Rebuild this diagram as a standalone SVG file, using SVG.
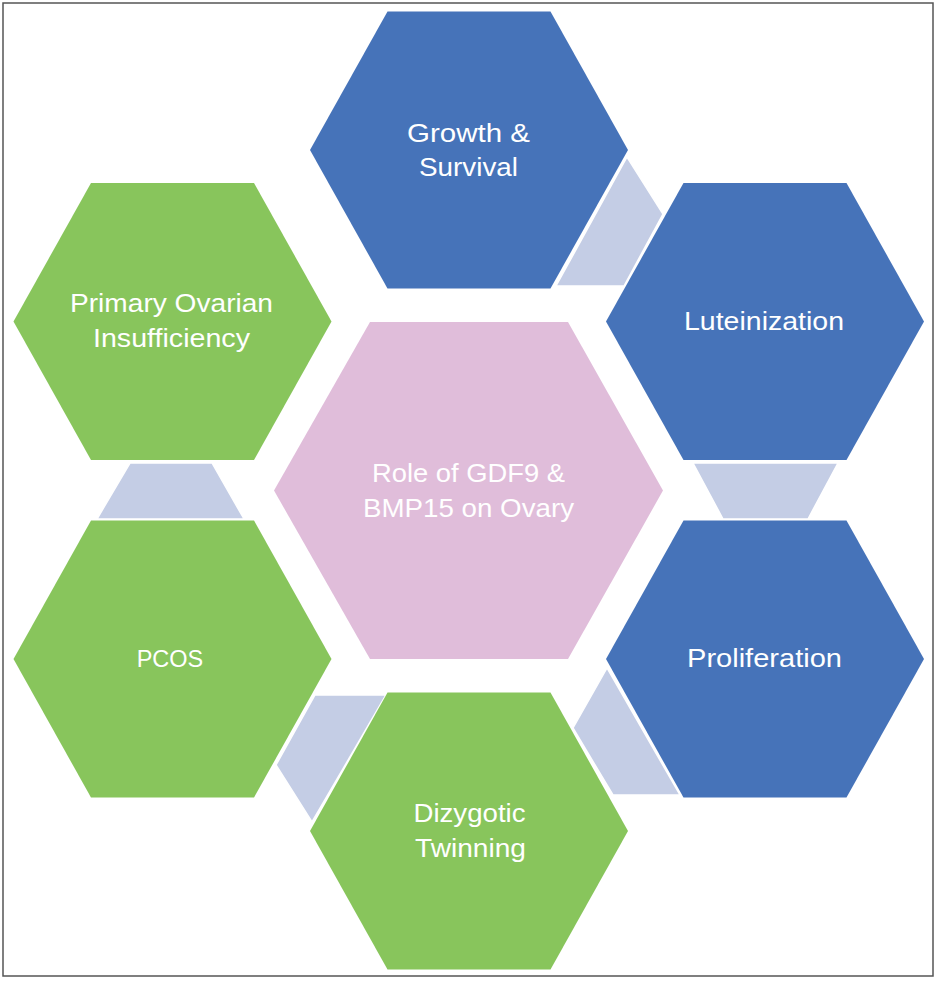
<svg xmlns="http://www.w3.org/2000/svg" width="939" height="984" viewBox="0 0 939 984">
<style>
.blue{fill:#4673B9}
.green{fill:#88C55C}
.pink{fill:#E0BDDA}
.conn{fill:#C4CDE5;stroke:#FFFFFF;stroke-width:1.5;stroke-linejoin:round}
.lbl{font-family:"Liberation Sans",Arial,sans-serif;font-size:26px;fill:#FFFFFF;text-anchor:middle}
</style>
<rect x="0" y="0" width="939" height="984" fill="#FFFFFF"/>
<rect x="3" y="3" width="930" height="973" fill="none" stroke="#555555" stroke-width="1.5"/>
<g id="connectors">
<polygon class="conn" points="627,157 663,214 624,286 556,286"/>
<polygon class="conn" points="693,463 838,463 808,519 723,519"/>
<polygon class="conn" points="130,463 212,463 244,519 97,519"/>
<polygon class="conn" points="315,695 386,695 312,822 276,765"/>
<polygon class="conn" points="607,668 680,795 613,795 573,728"/>
</g>
<g id="center">
<polygon class="pink" points="370,322 568,322 663,490.5 568,659 370,659 274,490.5"/>
<text class="lbl"><tspan x="468.5" y="482" textLength="193" lengthAdjust="spacingAndGlyphs">Role of GDF9 &amp;</tspan><tspan x="468.5" y="517" textLength="211" lengthAdjust="spacingAndGlyphs">BMP15 on Ovary</tspan></text>
</g>
<g id="growth">
<polygon class="blue" points="387.5,11.5 550.5,11.5 628,150 550.5,288.5 387.5,288.5 310,150"/>
<text class="lbl"><tspan x="468.5" y="142" textLength="123" lengthAdjust="spacingAndGlyphs">Growth &amp;</tspan><tspan x="468.5" y="176" textLength="99" lengthAdjust="spacingAndGlyphs">Survival</tspan></text>
</g>
<g id="luteinization">
<polygon class="blue" points="683.5,183 846.5,183 924,321.5 846.5,460 683.5,460 606,321.5"/>
<text class="lbl" x="764" y="330" textLength="160" lengthAdjust="spacingAndGlyphs">Luteinization</text>
</g>
<g id="proliferation">
<polygon class="blue" points="683.5,520.5 846.5,520.5 924,659 846.5,797.5 683.5,797.5 606,659"/>
<text class="lbl" x="764.5" y="667" textLength="155" lengthAdjust="spacingAndGlyphs">Proliferation</text>
</g>
<g id="dizygotic">
<polygon class="green" points="387.5,692.5 550.5,692.5 628,831 550.5,969.5 387.5,969.5 310,831"/>
<text class="lbl"><tspan x="469.5" y="822" textLength="112" lengthAdjust="spacingAndGlyphs">Dizygotic</tspan><tspan x="470.5" y="857" textLength="111" lengthAdjust="spacingAndGlyphs">Twinning</tspan></text>
</g>
<g id="pcos">
<polygon class="green" points="91,520.5 254,520.5 331.5,659 254,797.5 91,797.5 13.5,659"/>
<text class="lbl" x="170" y="667" style="font-size:23.5px">PCOS</text>
</g>
<g id="poi">
<polygon class="green" points="91,183 254,183 331.5,321.5 254,460 91,460 13.5,321.5"/>
<text class="lbl"><tspan x="171.5" y="312" textLength="203" lengthAdjust="spacingAndGlyphs">Primary Ovarian</tspan><tspan x="171.5" y="347" textLength="157" lengthAdjust="spacingAndGlyphs">Insufficiency</tspan></text>
</g>
</svg>
